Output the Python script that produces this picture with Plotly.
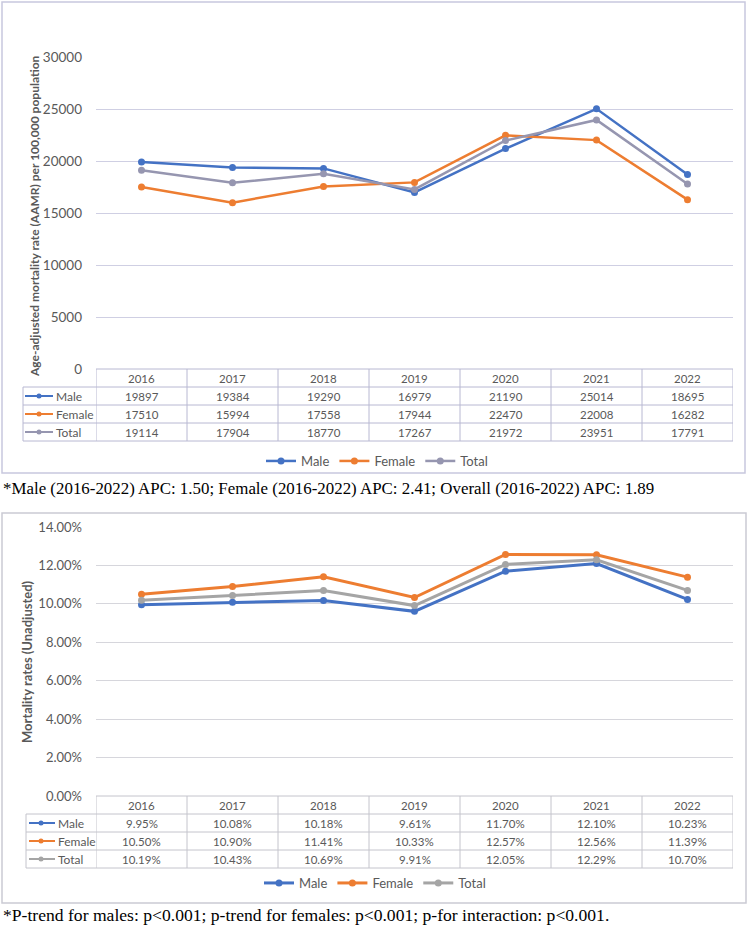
import plotly.graph_objects as go

W, H = 747, 927

years = ["2016", "2017", "2018", "2019", "2020", "2021", "2022"]
series_names = ["Male", "Female", "Total"]

# Chart 1: age-adjusted mortality rate per 100,000
aamr_male = [19897, 19384, 19290, 16979, 21190, 25014, 18695]
aamr_female = [17510, 15994, 17558, 17944, 22470, 22008, 16282]
aamr_total = [19114, 17904, 18770, 17267, 21972, 23951, 17791]

# Chart 2: unadjusted mortality rates (%)
rate_male = [9.95, 10.08, 10.18, 9.61, 11.70, 12.10, 10.23]
rate_female = [10.50, 10.90, 11.41, 10.33, 12.57, 12.56, 11.39]
rate_total = [10.19, 10.43, 10.69, 9.91, 12.05, 12.29, 10.70]

caption1 = "*Male (2016-2022) APC: 1.50; Female (2016-2022) APC: 2.41; Overall (2016-2022) APC: 1.89"
caption2 = "*P-trend for males: p<0.001; p-trend for females: p<0.001; p-for interaction: p<0.001."


def px(x):
    return x / W


def py(y):
    return 1 - y / H


BLUE, ORANGE = "#4472C4", "#ED7D31"
colors1 = {"Male": BLUE, "Female": ORANGE, "Total": "#9696B0"}
colors2 = {"Male": BLUE, "Female": ORANGE, "Total": "#A5A5A5"}
TXT = "#595959"
FONT = "Lato"

fig = go.Figure()

for name, vals in zip(series_names, [aamr_male, aamr_female, aamr_total]):
    fig.add_trace(go.Scatter(
        x=years, y=vals, name=name, mode="lines+markers",
        line=dict(color=colors1[name], width=2.5),
        marker=dict(size=7, color=colors1[name]),
        xaxis="x", yaxis="y", legend="legend", cliponaxis=False))

for name, vals in zip(series_names, [rate_male, rate_female, rate_total]):
    fig.add_trace(go.Scatter(
        x=years, y=[v / 100 for v in vals], name=name, mode="lines+markers",
        line=dict(color=colors2[name], width=3),
        marker=dict(size=7, color=colors2[name]),
        xaxis="x2", yaxis="y2", legend="legend2", cliponaxis=False))

X0, X1 = 96, 733
shapes = []
annotations = []


def ann(**kw):
    base = dict(showarrow=False, xanchor="center", yanchor="middle")
    base.update(kw)
    annotations.append(base)


def build_table(top, label_left, glyph, row_vals, fmt, colors, line_color, xref):
    rh = 18
    for i, yr in enumerate(years):
        ann(x=i, xref=xref, y=py(top + rh / 2), yref="paper",
            text=yr, font=dict(family=FONT, size=11.5, color=TXT))
    for i in range(len(years) + 1):
        shapes.append(dict(type="line", xref=xref, yref="paper",
                           x0=i - 0.5, x1=i - 0.5,
                           y0=py(top), y1=py(top + rh * 4), line=dict(color=line_color, width=1)))
    shapes.append(dict(type="line", xref="paper", yref="paper", x0=px(label_left), x1=px(label_left),
                       y0=py(top + rh), y1=py(top + rh * 4), line=dict(color=line_color, width=1)))
    shapes.append(dict(type="line", xref="paper", yref="paper", x0=px(X0), x1=px(X1),
                       y0=py(top), y1=py(top), line=dict(color=line_color, width=1)))
    for r in range(1, 5):
        shapes.append(dict(type="line", xref="paper", yref="paper", x0=px(label_left), x1=px(X1),
                           y0=py(top + rh * r), y1=py(top + rh * r), line=dict(color=line_color, width=1)))
    for r, (name, vals) in enumerate(zip(series_names, row_vals)):
        yc = top + rh * (r + 1) + rh / 2
        gx0, gx1, gdot, tx = glyph
        shapes.append(dict(type="line", xref="paper", yref="paper", x0=px(gx0), x1=px(gx1),
                           y0=py(yc), y1=py(yc), line=dict(color=colors[name], width=2)))
        shapes.append(dict(type="circle", xref="paper", yref="paper", x0=px(gdot - 2.5), x1=px(gdot + 2.5),
                           y0=py(yc - 2.5), y1=py(yc + 2.5), fillcolor=colors[name], line=dict(width=0)))
        ann(x=px(tx), xref="paper", xanchor="left", y=py(yc), yref="paper",
            text=name, font=dict(family=FONT, size=12, color=TXT))
        for i, v in enumerate(vals):
            ann(x=i, xref=xref, y=py(yc), yref="paper", text=fmt(v),
                font=dict(family=FONT, size=11.5, color=TXT))


build_table(369, 23, (25, 53, 39, 54), [aamr_male, aamr_female, aamr_total],
            lambda v: f"{v}", colors1, "#B8B8D2", "x")
build_table(796, 26, (29, 55, 41, 56), [rate_male, rate_female, rate_total],
            lambda v: f"{v:.2f}%", colors2, "#C4C4CC", "x2")

# outer boxes
shapes.append(dict(type="rect", xref="paper", yref="paper", x0=px(2), x1=px(745), y0=py(473), y1=py(2),
                   line=dict(color="#C8C8DE", width=1.5), layer="below"))
shapes.append(dict(type="rect", xref="paper", yref="paper", x0=px(2), x1=px(746), y0=py(903), y1=py(513),
                   line=dict(color="#CACAD4", width=1.5), layer="below"))

# axis titles
ann(x=px(34), y=py(216), xref="paper", yref="paper", textangle=-90,
    text="<b>Age-adjusted mortality rate (AAMR) per 100,000 population</b>",
    font=dict(family=FONT, size=12, color=TXT))
ann(x=px(27), y=py(662), xref="paper", yref="paper", textangle=-90,
    text="<b>Mortality rates (Unadjusted)</b>",
    font=dict(family=FONT, size=13, color=TXT))

# captions
ann(x=px(1), y=py(488), xref="paper", yref="paper", xanchor="left",
    text=caption1, font=dict(family="Liberation Serif", size=16.9, color="black"))
ann(x=px(1), y=py(915), xref="paper", yref="paper", xanchor="left",
    text=caption2, font=dict(family="Liberation Serif", size=17.6, color="black"))

fig.update_layout(
    width=W, height=H, margin=dict(l=0, r=0, t=0, b=0, autoexpand=False),
    paper_bgcolor="white", plot_bgcolor="white",
    font=dict(family=FONT, color=TXT),
    xaxis=dict(domain=[px(X0), px(X1)], type="category", range=[-0.5, 6.5],
               showticklabels=False, showgrid=False, zeroline=False, anchor="y"),
    yaxis=dict(domain=[py(369), py(57)], range=[0, 30000], dtick=5000, tick0=0, tickformat="d",
               gridcolor="#CFCFE3", gridwidth=1, zeroline=False, showline=False,
               tickfont=dict(family=FONT, size=13.5, color=TXT), ticklabelstandoff=13,
               anchor="x", automargin=False),
    xaxis2=dict(domain=[px(X0), px(X1)], type="category", range=[-0.5, 6.5],
                showticklabels=False, showgrid=False, zeroline=False, anchor="y2"),
    yaxis2=dict(domain=[py(796), py(527)], range=[0, 0.14], dtick=0.02, tick0=0,
                tickformat=".2%", gridcolor="#D6D6DC", gridwidth=1, zeroline=False, showline=False,
                tickfont=dict(family=FONT, size=13, color=TXT), ticklabelstandoff=13,
                anchor="x2", automargin=False),
    legend=dict(orientation="h", x=px(377), xanchor="center", y=py(461), yanchor="middle",
                font=dict(family=FONT, size=13, color=TXT), bgcolor="rgba(0,0,0,0)"),
    legend2=dict(orientation="h", x=px(375), xanchor="center", y=py(883), yanchor="middle",
                 font=dict(family=FONT, size=13, color=TXT), bgcolor="rgba(0,0,0,0)"),
    shapes=shapes, annotations=annotations, showlegend=True,
)

fig.write_html("out.html")
